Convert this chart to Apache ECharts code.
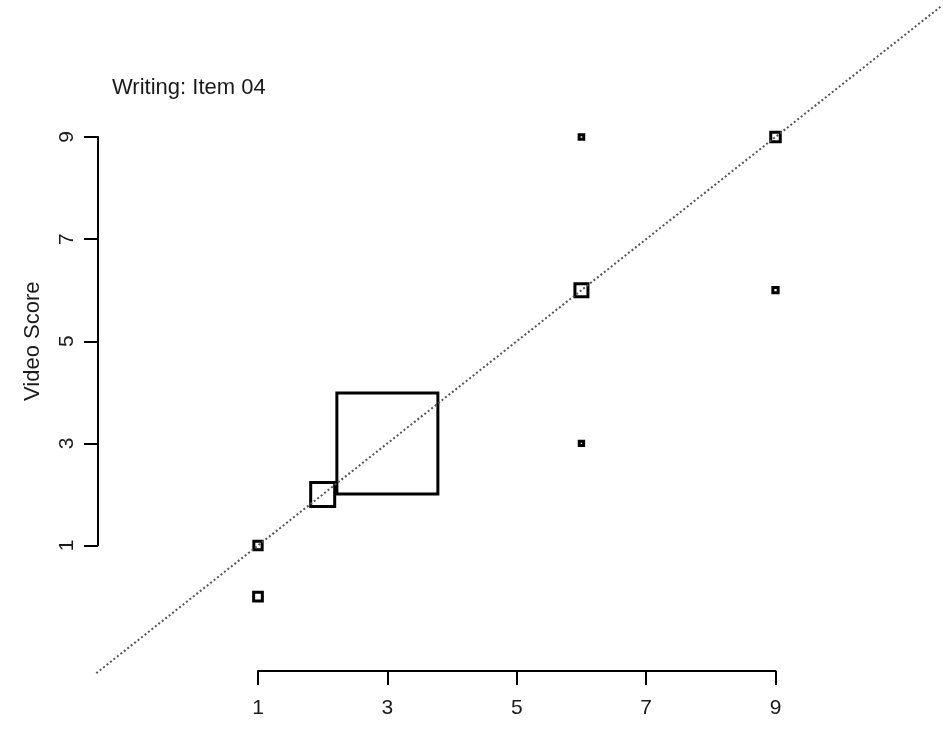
<!DOCTYPE html>
<html>
<head>
<meta charset="utf-8">
<title>Writing: Item 04</title>
<script src="https://cdn.jsdelivr.net/npm/echarts@6/dist/echarts.min.js"></script>
<style>
  html, body {
    margin: 0;
    background: #fff;
  }

  #chart {
    height: 729px;
    width: 943px;
  }
</style>
</head>
<body>
<div id="chart"></div>
<script>
// rater score (x) vs video score (y), one square per pair
const raterScore = [1, 1, 2, 3, 6, 6, 6, 9, 9]
const videoScore = [1, 0, 2, 3, 9, 6, 3, 9, 6]
// square side, grows with the number of cases
const squareSide = [8.3, 8.7, 24, 101, 4.6, 13, 4.4, 9.5, 5.3]

const xTicks = [1, 3, 5, 7, 9]
const yTicks = [1, 3, 5, 7, 9]
// y = x reference line, drawn across the whole plot region
const diagonal = [-1.5, 11.55]

const font = 'Liberation Sans, Arial, sans-serif'
const ink = '#1a1a1a'

// pixel box of the 1..9 frame; the wide frame for the diagonal shares its scale
const box = { left: 258, right: 775.5, top: 137, bottom: 545.5 }
const unitX = (box.right - box.left) / (xTicks[xTicks.length - 1] - xTicks[0])
const unitY = (box.bottom - box.top) / (yTicks[yTicks.length - 1] - yTicks[0])

function axisBase(ticks) {
  return {
    type: 'value',
    min: ticks[0],
    max: ticks[ticks.length - 1],
    interval: ticks[1] - ticks[0],
    splitLine: { show: false },
    axisLine: {
      show: true,
      onZero: false,
      lineStyle: { color: '#000', width: 2 },
    },
    axisTick: {
      show: true,
      length: 14,
      lineStyle: { color: '#000', width: 2 },
    },
  }
}

function hiddenAxis(range, gridIndex) {
  return {
    type: 'value',
    gridIndex: gridIndex,
    min: range[0],
    max: range[1],
    show: false,
  }
}

const chart = echarts.init(document.getElementById('chart'), null, { renderer: 'canvas' })

chart.setOption({
  animation: false,
  backgroundColor: '#fff',
  title: {
    text: 'Writing: Item 04',
    left: 112,
    top: 77,
    padding: 0,
    textStyle: {
      color: ink,
      fontFamily: font,
      fontSize: 22,
      fontWeight: 'normal',
    },
  },
  grid: [
    {
      left: box.left,
      right: 943 - box.right,
      top: box.top,
      bottom: 729 - box.bottom,
    },
    {
      left: box.left - (xTicks[0] - diagonal[0]) * unitX,
      right: 943 - (box.right + (diagonal[1] - xTicks[xTicks.length - 1]) * unitX),
      top: box.top - (diagonal[1] - yTicks[yTicks.length - 1]) * unitY,
      bottom: 729 - (box.bottom + (yTicks[0] - diagonal[0]) * unitY),
    },
  ],
  xAxis: [
    Object.assign(axisBase(xTicks), {
      position: 'bottom',
      offset: 125.5,
      axisLabel: {
        color: ink,
        fontFamily: font,
        fontSize: 21,
        margin: 27,
      },
    }),
    hiddenAxis(diagonal, 1),
  ],
  yAxis: [
    Object.assign(axisBase(yTicks), {
      position: 'left',
      offset: 160,
      name: 'Video Score',
      nameLocation: 'middle',
      nameGap: 54,
      nameRotate: 90,
      nameTextStyle: {
        color: ink,
        fontFamily: font,
        fontSize: 22,
      },
      axisLabel: {
        color: ink,
        fontFamily: font,
        fontSize: 21,
        margin: 20,
        rotate: 90,
      },
    }),
    hiddenAxis(diagonal, 1),
  ],
  series: [
    {
      type: 'scatter',
      clip: false,
      symbol: 'rect',
      data: raterScore.map((x, i) => ({
        value: [x, videoScore[i]],
        symbolSize: squareSide[i],
      })),
      itemStyle: {
        color: 'rgba(255,255,255,0)',
        borderColor: '#000',
        borderWidth: 3,
        opacity: 1,
      },
      z: 2,
    },
    {
      type: 'line',
      xAxisIndex: 1,
      yAxisIndex: 1,
      clip: false,
      silent: true,
      showSymbol: false,
      symbol: 'none',
      data: diagonal.map((v) => [v, v]),
      lineStyle: {
        color: '#555',
        width: 2,
        type: [2, 2.4],
      },
      z: 3,
    },
  ],
})
</script>
</body>
</html>
